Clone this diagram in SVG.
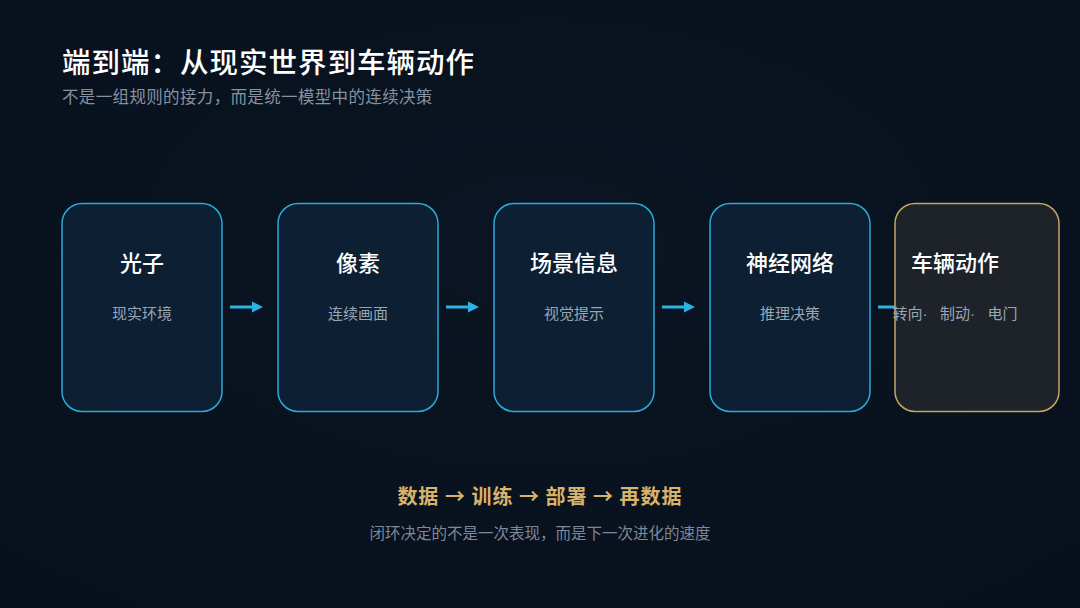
<svg xmlns="http://www.w3.org/2000/svg" width="1080" height="608" viewBox="0 0 1080 608">
<defs>
<marker id="ah" viewBox="0 0 10 10" refX="0" refY="5" markerWidth="11" markerHeight="14" markerUnits="userSpaceOnUse" orient="auto"><path d="M0,0 L10,5 L0,10 Z" fill="#2bb3e6"/></marker>
<radialGradient id="bg" cx="50%" cy="40%" r="75%"><stop offset="0" stop-color="#0b1523"/><stop offset="1" stop-color="#07101b"/></radialGradient>
</defs>
<style>
.cjk{font-family:"Noto Sans CJK SC","Noto Sans",sans-serif}
.lat{font-family:"Liberation Sans",sans-serif}
.box{fill:#0c1f33;stroke:#2aa9da;stroke-width:1.5}
.gbox{fill:#1e2229;stroke:#c4a564;stroke-width:1.5}
.t{fill:#ffffff;font-size:22px;font-weight:500;text-anchor:middle}
.s{fill:#9aa6b3;font-size:15px;text-anchor:middle}
.ar{stroke:#2bb3e6;stroke-width:3;fill:none}
</style>
<rect width="1080" height="608" fill="url(#bg)"/>
<text class="cjk" x="62" y="73" font-size="28.5" font-weight="500" letter-spacing="1" fill="#ffffff">端到端：从现实世界到车辆动作</text>
<text class="cjk" x="62" y="103" font-size="16.5" letter-spacing="0.35" fill="#8592a2">不是一组规则的接力，而是统一模型中的连续决策</text>
<g id="connectors">
<line class="ar" x1="230" y1="307" x2="252" y2="307" marker-end="url(#ah)"/>
<line class="ar" x1="446" y1="307" x2="468" y2="307" marker-end="url(#ah)"/>
<line class="ar" x1="662" y1="307" x2="684" y2="307" marker-end="url(#ah)"/>
<line class="ar" x1="878" y1="307" x2="900" y2="307" marker-end="url(#ah)"/>
</g>
<g id="n1"><rect class="box" x="62" y="203.5" width="160" height="208" rx="20"/><text class="cjk t" x="142" y="271">光子</text><text class="cjk s" x="142" y="319">现实环境</text></g>
<g id="n2"><rect class="box" x="278" y="203.5" width="160" height="208" rx="20"/><text class="cjk t" x="358" y="271">像素</text><text class="cjk s" x="358" y="319">连续画面</text></g>
<g id="n3"><rect class="box" x="494" y="203.5" width="160" height="208" rx="20"/><text class="cjk t" x="574" y="271">场景信息</text><text class="cjk s" x="574" y="319">视觉提示</text></g>
<g id="n4"><rect class="box" x="710" y="203.5" width="160" height="208" rx="20"/><text class="cjk t" x="790" y="271">神经网络</text><text class="cjk s" x="790" y="319">推理决策</text></g>
<g id="n5"><rect class="gbox" x="895" y="203.5" width="164" height="208" rx="20"/><text class="cjk t" x="955" y="271">车辆动作</text><text class="cjk s" x="955" y="319">转向<tspan class="lat">·&#160;&#160;&#160;</tspan>制动<tspan class="lat">·&#160;&#160;&#160;</tspan>电门</text></g>
<text class="cjk" x="540" y="504" font-size="20" font-weight="600" letter-spacing="1" fill="#d8b36b" text-anchor="middle">数据 → 训练 → 部署 → 再数据</text>
<text class="cjk" x="540" y="539" font-size="15.5" fill="#7d8898" text-anchor="middle">闭环决定的不是一次表现，而是下一次进化的速度</text>
</svg>
